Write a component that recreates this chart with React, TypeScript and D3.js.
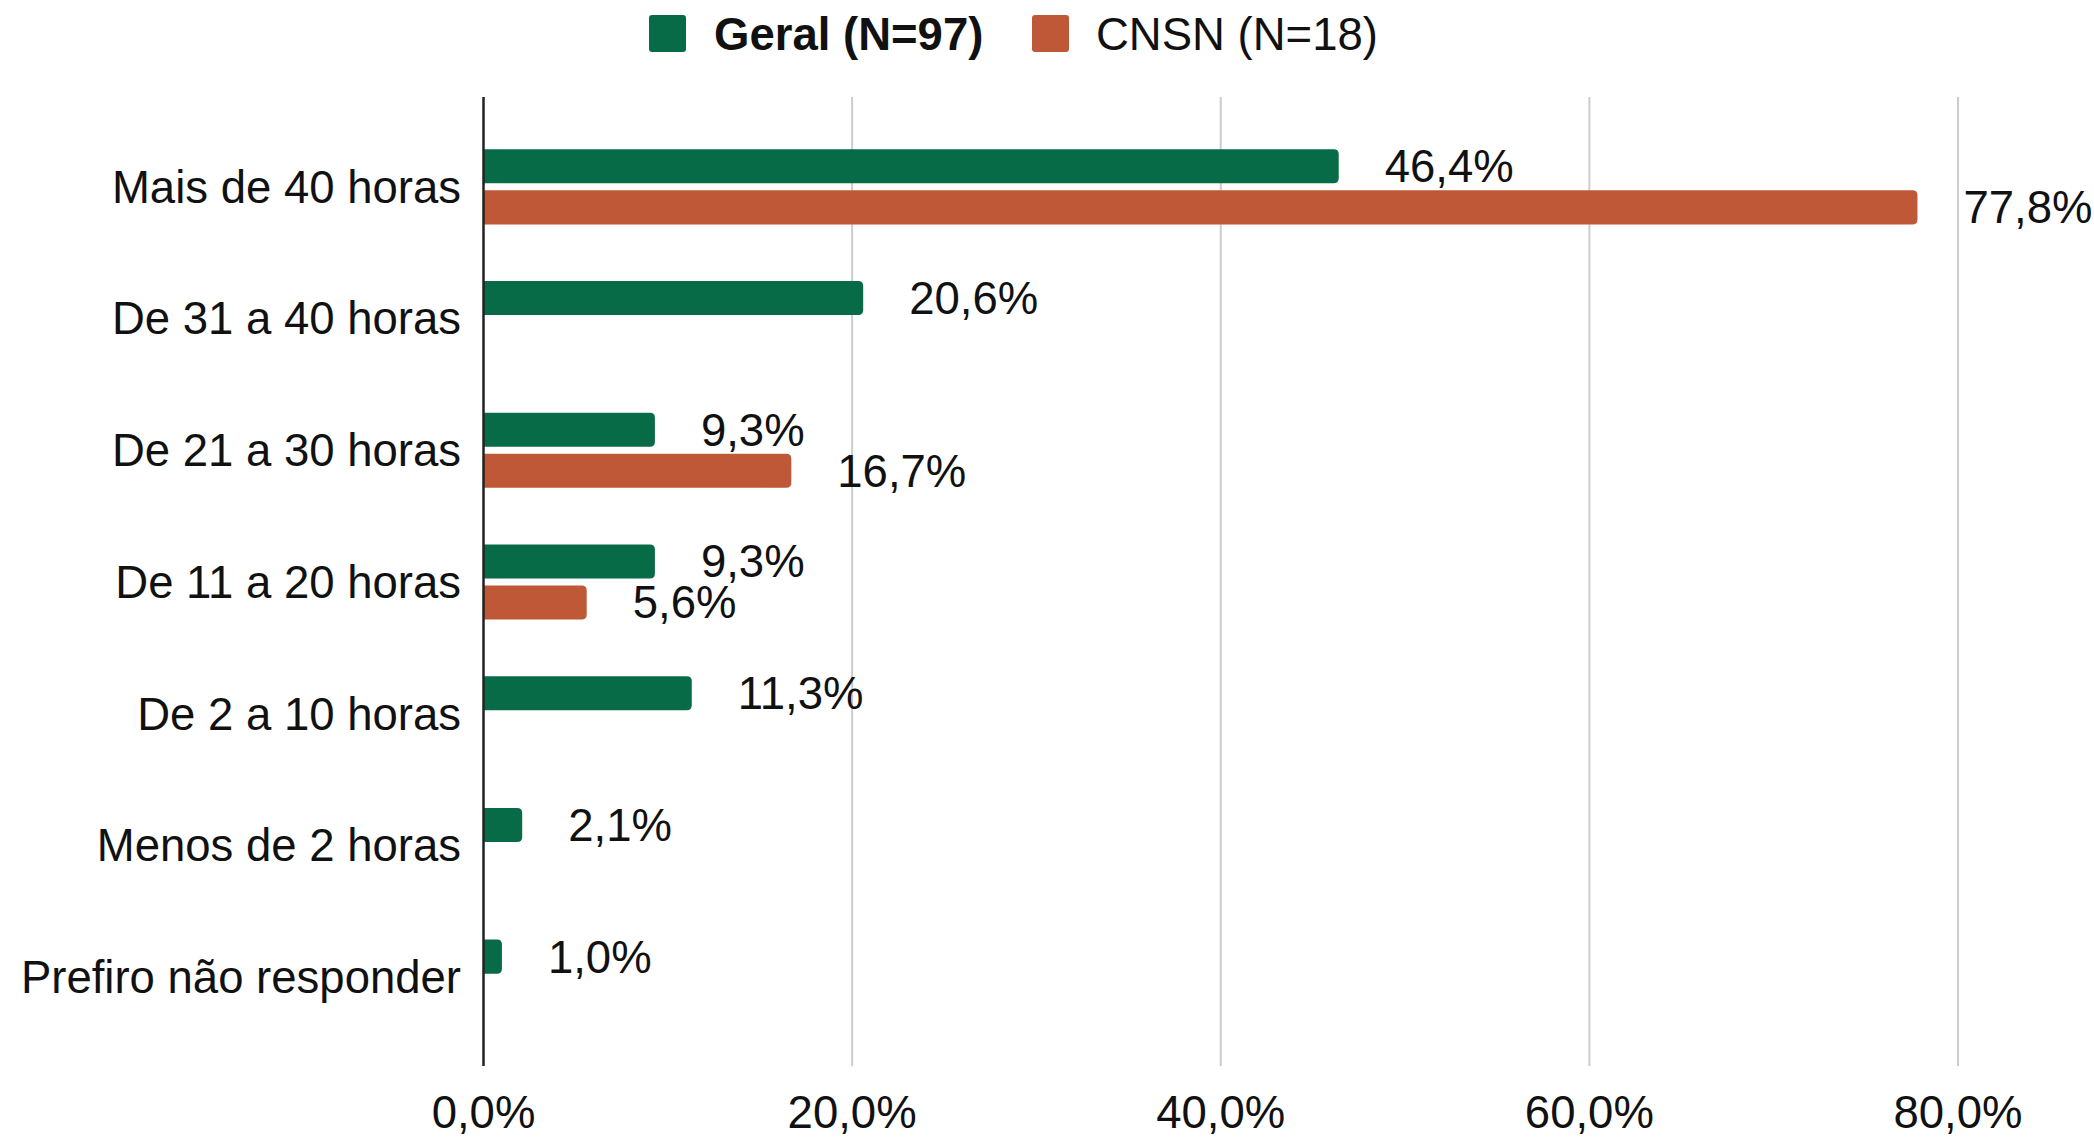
import React from 'react';
import * as d3 from 'd3';

const categories = [
  'Mais de 40 horas',
  'De 31 a 40 horas',
  'De 21 a 30 horas',
  'De 11 a 20 horas',
  'De 2 a 10 horas',
  'Menos de 2 horas',
  'Prefiro não responder',
];
const seriesNames = ['Geral (N=97)', 'CNSN (N=18)'];
const geralValues = [46.4, 20.6, 9.3, 9.3, 11.3, 2.1, 1.0];
const cnsnValues: (number | null)[] = [77.8, null, 16.7, 5.6, null, null, null];
const xTicks = [0, 20, 40, 60, 80];

const colors = ['#086b47', '#bf5836'];
const font = '"Liberation Sans", Arial, sans-serif';

const width = 2094;
const height = 1139;
const fs = 45.5;

const fmt = (v: number) => v.toFixed(1).replace('.', ',') + '%';

// bar with rounded right end
const barPath = (x0: number, x1: number, y: number, h: number, r: number) => {
  const rr = Math.min(r, (x1 - x0) / 2, h / 2);
  return `M${x0},${y}H${x1 - rr}Q${x1},${y} ${x1},${y + rr}V${y + h - rr}Q${x1},${y + h} ${x1 - rr},${y + h}H${x0}Z`;
};

const App: React.FC = () => {
  const xScale = d3.scaleLinear().domain([0, 80]).range([483.5, 1958]);
  const yScale = d3.scaleBand<string>()
    .domain(categories)
    .range([121, 1043])
    .paddingInner(0.43)
    .paddingOuter(0.215);
  const subScale = d3.scaleBand<string>()
    .domain(seriesNames)
    .range([0, yScale.bandwidth()])
    .paddingInner(0.17);

  const series = [geralValues, cnsnValues];
  const axisTop = 97;
  const axisBottom = 1066;

  return (
    <svg width={width} height={height} style={{ position: 'absolute', left: 0, top: 0 }}
      fontFamily={font}>
      <rect width={width} height={height} fill="#fff" />

      {/* legend */}
      <g>
        <rect x={649} y={15} width={37} height={37} rx={3} fill={colors[0]} />
        <text x={714} y={34} dy="0.35em" fontSize={fs} fontWeight="bold" fill="#111">{seriesNames[0]}</text>
        <rect x={1032} y={15} width={37} height={37} rx={3} fill={colors[1]} />
        <text x={1096} y={34} dy="0.35em" fontSize={fs} fill="#111">{seriesNames[1]}</text>
      </g>

      {/* grid */}
      {xTicks.filter(t => t > 0).map(t => (
        <line key={t} x1={xScale(t)} x2={xScale(t)} y1={axisTop} y2={axisBottom}
          stroke="#cccccc" strokeWidth={2} />
      ))}

      {/* tick labels */}
      {xTicks.map(t => (
        <text key={t} x={xScale(t)} y={1112} dy="0.35em" textAnchor="middle"
          fontSize={fs} fill="#111">{fmt(t)}</text>
      ))}

      {/* bars */}
      {categories.map((c, i) => (
        <g key={c} transform={`translate(0,${yScale(c)})`}>
          {series.map((vals, s) => {
            const v = vals[i];
            if (v == null) return null;
            const y = subScale(seriesNames[s])!;
            const h = subScale.bandwidth();
            return (
              <g key={s}>
                <path d={barPath(xScale(0), xScale(v), y, h, 5)} fill={colors[s]} />
                <text x={xScale(v) + 46} y={y + h / 2} dy="0.35em" fontSize={fs} fill="#111">
                  {fmt(v)}
                </text>
              </g>
            );
          })}
          <text x={461} y={yScale.bandwidth() / 2} dy="0.35em" textAnchor="end"
            fontSize={fs} fill="#111">{c}</text>
        </g>
      ))}

      {/* axis line */}
      <line x1={xScale(0)} x2={xScale(0)} y1={axisTop} y2={axisBottom} stroke="#222" strokeWidth={2.5} />
    </svg>
  );
};

export default App;
